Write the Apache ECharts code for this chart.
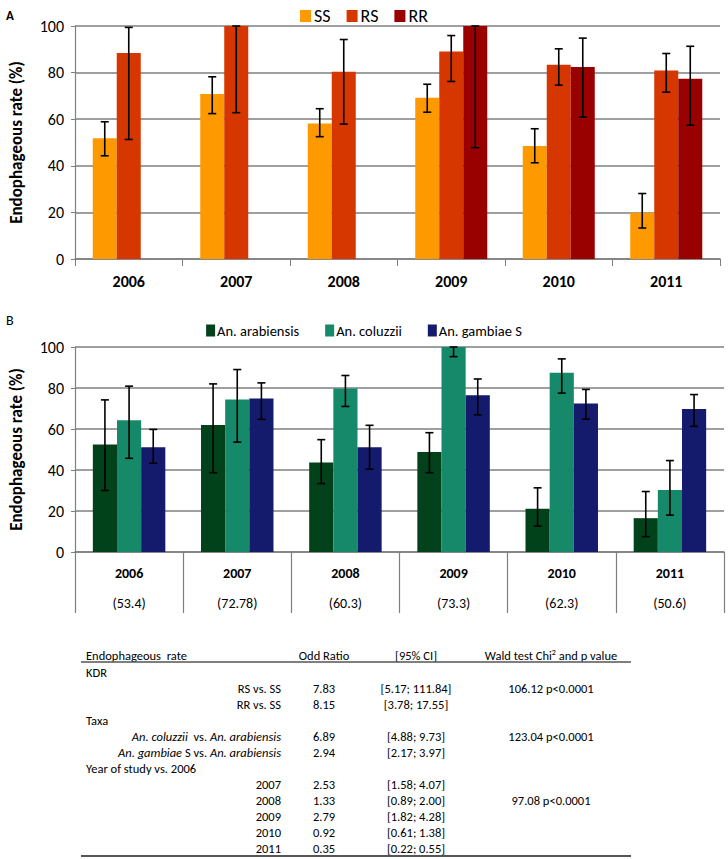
<!DOCTYPE html>
<html>
<head>
<meta charset="utf-8">
<script src="https://cdn.jsdelivr.net/npm/echarts@6/dist/echarts.min.js"></script>
<style>
html,body{margin:0;padding:0;background:#fff;}
#c{width:728px;height:859px;}
</style>
</head>
<body>
<div id="c"></div>
<script>
// ---------- DATA ----------
const years = ['2006', '2007', '2008', '2009', '2010', '2011'];
const overallRates = ['(53.4)', '(72.78)', '(60.3)', '(73.3)', '(62.3)', '(50.6)'];

// Panel A (kdr genotypes)
const ssVal  = [51.8, 70.8, 58.2, 69.2, 48.5, 19.9];
const ssLow  = [44.3, 62.4, 52.5, 63.0, 41.3, 13.3];
const ssHigh = [58.9, 78.2, 64.5, 75.0, 55.9, 28.1];
const rsVal  = [88.4, 100, 80.4, 89.1, 83.4, 80.9];
const rsLow  = [51.3, 62.8, 57.9, 76.2, 74.6, 71.6];
const rsHigh = [99.4, 100, 94.2, 95.9, 90.2, 88.2];
const rrVal  = [null, null, null, 100, 82.4, 77.4];
const rrLow  = [null, null, null, 47.8, 60.9, 57.4];
const rrHigh = [null, null, null, 100, 94.8, 91.3];

// Panel B (taxa)
const arabVal  = [52.5, 61.9, 43.6, 48.8, 21.1, 16.5];
const arabLow  = [30.0, 38.7, 33.4, 38.7, 12.6, 7.5];
const arabHigh = [74.2, 82.0, 54.8, 58.2, 31.3, 29.5];
const coluVal  = [64.3, 74.4, 79.7, 100, 87.5, 30.3];
const coluLow  = [45.7, 53.6, 71.0, 95.3, 77.5, 18.0];
const coluHigh = [80.9, 89.0, 86.1, 100, 94.2, 44.6];
const gambVal  = [51.1, 74.9, 51.1, 76.5, 72.4, 69.7];
const gambLow  = [43.3, 64.7, 40.4, 66.9, 64.8, 61.3];
const gambHigh = [59.8, 82.5, 61.8, 84.4, 79.3, 76.8];

// Table
const tableHeader = ['Endophageous  rate', 'Odd Ratio', '[95% CI]', 'Wald test Chi{sup|2} and p value'];
const tableLabels = ['KDR', 'RS vs. SS', 'RR vs. SS', 'Taxa',
  '{i|An. coluzzii}  vs. {i|An. arabiensis}', '{i|An. gambiae} S vs. {i|An. arabiensis}',
  'Year of study vs. 2006', '2007', '2008', '2009', '2010', '2011'];
const tableSection = [true, false, false, true, false, false, true, false, false, false, false, false];
const tableOR = ['', '7.83', '8.15', '', '6.89', '2.94', '', '2.53', '1.33', '2.79', '0.92', '0.35'];
const tableCI = ['', '[5.17; 111.84]', '[3.78; 17.55]', '', '[4.88; 9.73]', '[2.17; 3.97]', '',
  '[1.58; 4.07]', '[0.89; 2.00]', '[1.82; 4.28]', '[0.61; 1.38]', '[0.22; 0.55]'];
const tableWald = ['', '106.12 p<0.0001', '', '', '123.04 p<0.0001', '', '', '', '97.08 p<0.0001', '', '', ''];

// ---------- CHART ----------
const FONT = 'Carlito, Lato, "Open Sans", sans-serif';
const GAP = 0.33;
const GRID_COL = '#7f7f7f';

function errSeries(low, high, k, axisIdx) {
  const data = [];
  for (let i = 0; i < years.length; i++) {
    if (low[i] != null && high[i] != null) data.push([i, low[i], high[i]]);
  }
  return {
    type: 'custom', xAxisIndex: axisIdx, yAxisIndex: axisIdx, z: 10,
    encode: { x: 0, y: [1, 2] },
    data: data,
    silent: true,
    renderItem: function (params, api) {
      const i = api.value(0);
      const lo = api.coord([i, api.value(1)]);
      const hi = api.coord([i, api.value(2)]);
      const w = api.size([1, 0])[0];
      const bw = w * (1 - GAP) / 3;
      const x = lo[0] + (k - 1) * bw;
      const c = 4;
      const st = { stroke: '#000', lineWidth: 1.6 };
      return {
        type: 'group',
        children: [
          { type: 'line', shape: { x1: x, y1: lo[1], x2: x, y2: hi[1] }, style: st },
          { type: 'line', shape: { x1: x - c, y1: lo[1], x2: x + c, y2: lo[1] }, style: st },
          { type: 'line', shape: { x1: x - c, y1: hi[1], x2: x + c, y2: hi[1] }, style: st }
        ]
      };
    }
  };
}

function bar(name, vals, color, axisIdx) {
  return {
    name: name, type: 'bar', xAxisIndex: axisIdx, yAxisIndex: axisIdx,
    data: vals, barGap: '0%', barCategoryGap: (GAP * 100) + '%',
    itemStyle: { color: color }
  };
}

function yAxisCfg(idx) {
  return {
    gridIndex: idx, type: 'value', min: 0, max: 100, interval: 20,
    name: 'Endophageous rate (%)', nameLocation: 'middle', nameGap: 50,
    nameTextStyle: { fontFamily: FONT, fontWeight: 'bold', fontSize: 17, color: '#000' },
    axisLine: { show: true, lineStyle: { color: GRID_COL, width: 1.2 } },
    axisTick: { show: true, length: 4, lineStyle: { color: GRID_COL } },
    axisLabel: { fontFamily: FONT, fontSize: 16, color: '#000', margin: 11 },
    splitLine: { lineStyle: { color: GRID_COL, width: 1.5 } }
  };
}

// table graphics
const graphics = [];
const T = { left: 81, right: 631, xLabelL: 86, xLabelR: 281, xOR: 324, xCI: 416, xWald: 551 };
function txt(str, x, y, align) {
  graphics.push({
    type: 'text', x: x, y: y, silent: true,
    style: {
      text: str, fill: '#000', font: '12.5px ' + FONT,
      align: align, verticalAlign: 'middle',
      rich: {
        i: { fontFamily: FONT, fontSize: 12.5, fontStyle: 'italic', fill: '#000' },
        sup: { fontFamily: FONT, fontSize: 8, verticalAlign: 'top', fill: '#000', padding: [0, 0, 6, 0] }
      }
    }
  });
}
const headY = 655;
txt(tableHeader[0], T.xLabelL, headY, 'left');
txt(tableHeader[1], T.xOR, headY, 'center');
txt(tableHeader[2], T.xCI, headY, 'center');
txt(tableHeader[3], T.xWald, headY, 'center');
graphics.push({ type: 'line', silent: true, shape: { x1: T.left, y1: 662, x2: T.right, y2: 662 }, style: { stroke: '#555', lineWidth: 1.5 } });
for (let r = 0; r < tableLabels.length; r++) {
  const y = 672 + r * 16;
  if (tableSection[r]) txt(tableLabels[r], T.xLabelL, y, 'left');
  else txt(tableLabels[r], T.xLabelR, y, 'right');
  if (tableOR[r]) txt(tableOR[r], T.xOR, y, 'center');
  if (tableCI[r]) txt(tableCI[r], T.xCI, y, 'center');
  if (tableWald[r]) txt(tableWald[r], T.xWald, y, 'center');
}
graphics.push({ type: 'line', silent: true, shape: { x1: T.left, y1: 856, x2: T.right, y2: 856 }, style: { stroke: '#555', lineWidth: 2.2 } });

// panel letters
graphics.push({ type: 'text', x: 6, y: 15, style: { text: 'A', font: 'bold 13px ' + FONT, fill: '#000', verticalAlign: 'middle' } });
graphics.push({ type: 'text', x: 6, y: 320, style: { text: 'B', font: '14px ' + FONT, fill: '#000', verticalAlign: 'middle' } });

const option = {
  backgroundColor: '#fff',
  animation: false,
  textStyle: { fontFamily: FONT },
  legend: [
    {
      data: ['SS', 'RS', 'RR'], top: 2, left: 'center',
      itemWidth: 11, itemHeight: 12, itemGap: 16,
      textStyle: { fontFamily: FONT, fontSize: 18, color: '#000', padding: [0, 0, 0, -2] },
      icon: 'rect'
    },
    {
      data: ['An. arabiensis', 'An. coluzzii', 'An. gambiae S'], top: 318, left: 'center',
      itemWidth: 9, itemHeight: 12, itemGap: 26,
      textStyle: { fontFamily: FONT, fontSize: 14.5, color: '#000', padding: [0, 0, 0, -3] },
      icon: 'rect'
    }
  ],
  grid: [
    { left: 73, right: 8, top: 26, height: 233 },
    { left: 74, right: 4, top: 347, height: 205 }
  ],
  xAxis: [
    {
      gridIndex: 0, type: 'category', data: years,
      axisLine: { lineStyle: { color: GRID_COL, width: 1.5 } },
      axisTick: { show: true, length: 7, lineStyle: { color: GRID_COL } },
      axisLabel: { fontFamily: FONT, fontWeight: 'bold', fontSize: 16, color: '#000', margin: 14 }
    },
    {
      gridIndex: 1, type: 'category', data: years,
      axisLine: { lineStyle: { color: GRID_COL, width: 1.5 } },
      axisTick: { show: true, length: 61, lineStyle: { color: GRID_COL, width: 1.2 } },
      axisLabel: {
        margin: 6, color: '#000',
        formatter: function (v, i) { return '{y|' + v + '}\n{p|' + overallRates[i] + '}'; },
        rich: {
          y: { fontFamily: FONT, fontWeight: 'bold', fontSize: 14, lineHeight: 30, color: '#000' },
          p: { fontFamily: FONT, fontSize: 14, lineHeight: 30, color: '#000' }
        }
      }
    }
  ],
  yAxis: [yAxisCfg(0), yAxisCfg(1)],
  series: [
    bar('SS', ssVal, '#FF9900', 0),
    bar('RS', rsVal, '#D63600', 0),
    bar('RR', rrVal, '#990000', 0),
    errSeries(ssLow, ssHigh, 0, 0),
    errSeries(rsLow, rsHigh, 1, 0),
    errSeries(rrLow, rrHigh, 2, 0),
    bar('An. arabiensis', arabVal, '#01421A', 1),
    bar('An. coluzzii', coluVal, '#17896B', 1),
    bar('An. gambiae S', gambVal, '#151B6C', 1),
    errSeries(arabLow, arabHigh, 0, 1),
    errSeries(coluLow, coluHigh, 1, 1),
    errSeries(gambLow, gambHigh, 2, 1)
  ],
  graphic: graphics
};

const chart = echarts.init(document.getElementById('c'), null, { renderer: 'svg', width: 728, height: 859 });
chart.setOption(option);
</script>
</body>
</html>
